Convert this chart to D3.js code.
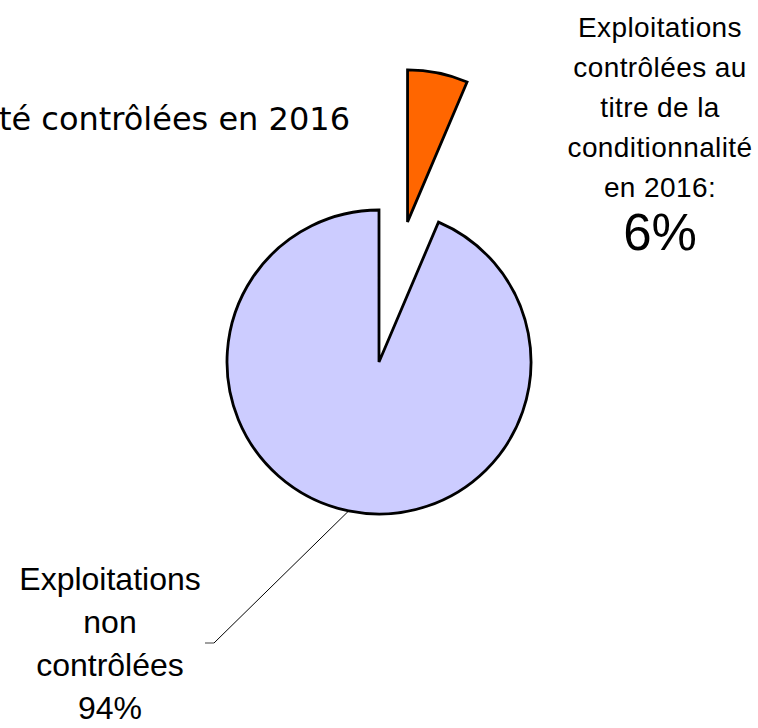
<!DOCTYPE html>
<html>
<head>
  <meta charset="utf-8">
  <script src="https://d3js.org/d3.v7.min.js"></script>
  <style>
    body { margin: 0; background: #fff; }
    .title { font-family: 'DejaVu Sans', sans-serif; font-size: 32px; }
    .lbl { font-family: 'Liberation Sans', Arial, sans-serif; fill: #000; }
  </style>
</head>
<body>
  <div id="chart"></div>
  <script>
    var width = 758, height = 728;

    // data
    var categories = ["Exploitations contrôlées", "Exploitations non contrôlées"];
    var shares = [6.4, 93.6];
    var colours = ["#FF6600", "#CCCCFF"];
    var exploded = [true, false];

    var topLabelLines = ["Exploitations", "contrôlées au", "titre de la", "conditionnalité", "en 2016:"];
    var bottomLabelLines = ["Exploitations", "non", "contrôlées"];

    var cx = 379, cy = 362, radius = 152, explodeDist = 143;

    var svg = d3.select("#chart").append("svg")
      .attr("width", width)
      .attr("height", height);

    svg.append("text")
      .attr("class", "title")
      .attr("x", 350)
      .attr("y", 130)
      .attr("text-anchor", "end")
      .text("Part des exploitations soumises à la conditionnalité contrôlées en 2016");

    var pie = d3.pie().sort(null).value(function (d) { return d; });
    var arcs = pie(shares);

    var arc = d3.arc().innerRadius(0).outerRadius(radius);
    var edgeArc = d3.arc().innerRadius(radius).outerRadius(radius);

    var g = svg.append("g").attr("transform", "translate(" + cx + "," + cy + ")");

    g.selectAll("path.slice")
      .data(arcs)
      .enter()
      .append("path")
      .attr("class", "slice")
      .attr("d", arc)
      .attr("transform", function (d, i) {
        if (!exploded[i]) return null;
        var mid = (d.startAngle + d.endAngle) / 2;
        return "translate(" + (Math.sin(mid) * explodeDist) + "," + (-Math.cos(mid) * explodeDist) + ")";
      })
      .style("fill", function (d, i) { return colours[i]; })
      .style("stroke", "#000")
      .style("stroke-width", 2.8)
      .style("stroke-linejoin", "miter");

    var fmt = d3.format(".0f");

    // label for the small slice, top right
    var tx = 660;
    var smallLabel = svg.append("text").attr("class", "lbl").attr("text-anchor", "middle");
    topLabelLines.forEach(function (s, i) {
      smallLabel.append("tspan")
        .attr("x", tx)
        .attr("y", 37 + i * 40)
        .style("font-size", "28px")
        .style("letter-spacing", "0.4px")
        .text(s);
    });
    svg.append("text")
      .attr("class", "lbl")
      .attr("text-anchor", "middle")
      .attr("x", tx)
      .attr("y", 250)
      .style("font-size", "51px")
      .text(fmt(shares[0]) + "%");

    // label for the big slice, bottom left, with leader line
    var p0 = edgeArc.centroid(arcs[1]);
    var elbow = [214, 643], tick = [205, 643];
    svg.append("line")
      .attr("x1", cx + p0[0]).attr("y1", cy + p0[1])
      .attr("x2", elbow[0]).attr("y2", elbow[1])
      .style("stroke", "#000").style("stroke-width", 1);
    svg.append("line")
      .attr("x1", elbow[0]).attr("y1", elbow[1])
      .attr("x2", tick[0]).attr("y2", tick[1])
      .style("stroke", "#808080").style("stroke-width", 1.5);

    var bx = 110;
    var bigLabel = svg.append("text").attr("class", "lbl").attr("text-anchor", "middle");
    bottomLabelLines.concat([fmt(shares[1]) + "%"]).forEach(function (s, i) {
      bigLabel.append("tspan")
        .attr("x", bx)
        .attr("y", 590 + i * 43)
        .style("font-size", "32px")
        .text(s);
    });
  </script>
</body>
</html>
